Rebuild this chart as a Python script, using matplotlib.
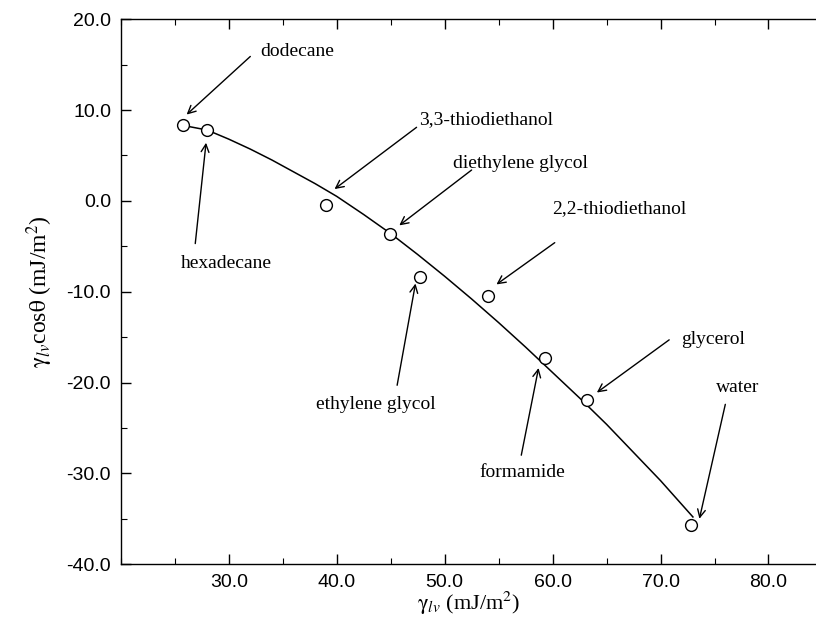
import matplotlib
matplotlib.use('Agg')
import matplotlib.pyplot as plt
from matplotlib.ticker import MultipleLocator, FormatStrFormatter

plt.rcParams['mathtext.fontset'] = 'stix'

# measured liquids: surface tension vs adhesion tension
gamma_lv = [25.8, 28.0, 39.0, 44.9, 47.7, 54.0, 59.3, 63.2, 72.8]
gamma_cos = [8.3, 7.8, -0.4, -3.6, -8.4, -10.5, -17.3, -21.9, -35.7]

# smooth fitted curve through the data
curve_x = [25.8, 28.0, 30.0, 32.0, 34.0, 36.0, 38.0, 40.0, 42.5, 45.0, 47.5,
           50.0, 52.5, 55.0, 57.5, 60.0, 62.5, 65.0, 67.5, 70.0, 73.0]
curve_y = [8.3, 7.8, 6.8, 5.7, 4.5, 3.2, 1.9, 0.5, -1.5, -3.6, -5.9,
           -8.3, -10.8, -13.4, -16.1, -18.9, -21.7, -24.6, -27.7, -30.8, -34.8]

# label text, text position, arrow tail, arrow head, horizontal alignment
labels = [
    ("dodecane",          (32.9, 16.4),  (32.0, 15.9),  (26.1, 9.5),   'left'),
    ("hexadecane",        (29.8, -6.9),  (26.9, -4.7),  (27.9, 6.4),   'center'),
    ("3,3-thiodiethanol", (47.6, 9.0),   (47.4, 8.1),   (39.8, 1.3),   'left'),
    ("diethylene glycol", (50.8, 4.1),   (52.5, 3.4),   (45.8, -2.7),  'left'),
    ("2,2-thiodiethanol", (60.0, -0.9),  (60.2, -4.6),  (54.8, -9.2),  'left'),
    ("ethylene glycol",   (43.6, -22.4), (45.6, -20.3), (47.3, -9.1),  'center'),
    ("formamide",         (57.2, -29.9), (57.1, -28.0), (58.7, -18.4), 'center'),
    ("glycerol",          (71.9, -15.3), (70.8, -15.3), (64.1, -21.1), 'left'),
    ("water",             (77.1, -20.6), (76.0, -22.4), (73.6, -35.0), 'center'),
]

fig = plt.figure(figsize=(8.16, 6.2), dpi=100)
ax = fig.add_axes([0.148, 0.090, 0.852, 0.879])

ax.plot(curve_x, curve_y, color='black', lw=1.1, zorder=2)
ax.plot(gamma_lv, gamma_cos, 'o', ms=8.5, mfc='white', mec='black', mew=1.0,
        ls='none', zorder=3)

for name, txt, tail, head, ha in labels:
    ax.text(txt[0], txt[1], name, ha=ha, va='center', fontsize=14,
            family='Liberation Serif')
    ax.annotate('', xy=head, xytext=tail,
                arrowprops=dict(arrowstyle='->', lw=1.0, color='black',
                                mutation_scale=14, shrinkA=0, shrinkB=0))

ax.set_xlim(20, 84.4)
ax.set_ylim(-40, 20)
ax.xaxis.set_major_locator(MultipleLocator(10))
ax.xaxis.set_minor_locator(MultipleLocator(5))
ax.yaxis.set_major_locator(MultipleLocator(10))
ax.yaxis.set_minor_locator(MultipleLocator(5))
ax.xaxis.set_major_formatter(FormatStrFormatter('%.1f'))
ax.yaxis.set_major_formatter(FormatStrFormatter('%.1f'))
ax.set_xticks([30, 40, 50, 60, 70, 80])

ax.spines['right'].set_visible(False)
for s in ['left', 'bottom', 'top']:
    ax.spines[s].set_linewidth(1.0)
ax.tick_params(which='both', direction='in', top=True, right=False)
ax.tick_params(which='major', length=7, width=1.0, pad=7, labelsize=14)
ax.tick_params(which='minor', length=4, width=0.8)
for lab in ax.get_xticklabels() + ax.get_yticklabels():
    lab.set_family('Liberation Sans')

ax.set_xlabel(r'$\mathrm{\gamma}_{lv}$ (mJ/m$^2$)', fontsize=16,
              family='Liberation Serif', labelpad=-1)
ax.set_ylabel(r'$\mathrm{\gamma}_{lv}$cos$\mathrm{\theta}$ (mJ/m$^2$)', fontsize=17,
              family='Liberation Serif', labelpad=8)

fig.savefig('out.png', dpi=100)
